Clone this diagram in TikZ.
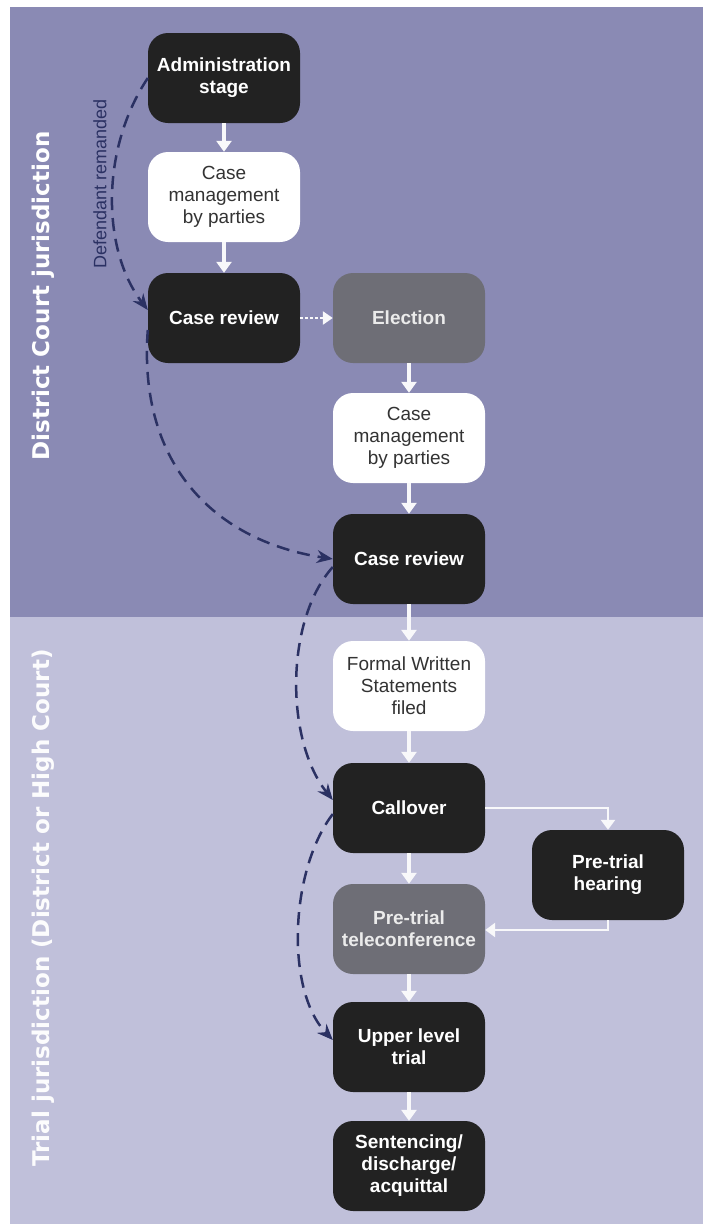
\documentclass[tikz,border=0pt]{standalone}
\usepackage{fontspec}
\setmainfont{Liberation Sans}
\newfontfamily\sidefont{DejaVu Sans}
\usetikzlibrary{arrows.meta}
\definecolor{bgtop}{HTML}{8A8AB4}
\definecolor{bgbot}{HTML}{C0C0DA}
\definecolor{darkbox}{HTML}{222222}
\definecolor{graybox}{HTML}{6E6E76}
\definecolor{navy}{HTML}{2B3163}
\definecolor{softtext}{HTML}{333333}
\begin{document}
\begin{tikzpicture}[x=1pt,y=-1pt,
 box/.style={rounded corners=20pt, minimum width=152pt, minimum height=90pt, inner sep=0pt, align=center, font=\fontsize{19}{22}\selectfont\bfseries},
 darkb/.style={box, fill=darkbox, text=white},
 grayb/.style={box, fill=graybox, text=white!92!black},
 whiteb/.style={box, fill=white, text=softtext, font=\fontsize{19}{22}\selectfont},
 warrow/.style={draw=white!94!bgtop, line width=3.5pt, -{Triangle[width=15pt,length=11pt]}},
 wline/.style={draw=white!94!bgtop, line width=2.5pt, -{Triangle[width=14pt,length=10pt]}},
 wdot/.style={draw=white!94!bgtop, line width=2.5pt, dash pattern=on 3pt off 2pt, -{Triangle[width=13pt,length=10pt]}},
 remand/.style={draw=navy, line width=2.5pt, dash pattern=on 13pt off 8pt, -{Stealth[length=16pt,width=13pt]}},
 sidelabel/.style={rotate=90, text=white, font=\sidefont\bfseries\fontsize{23}{26}\selectfont}
]
\useasboundingbox (0,0) rectangle (703,1224);
\fill[white] (0,0) rectangle (703,1224);
\fill[bgtop] (10,7) rectangle (703,617);
\fill[bgbot] (10,617) rectangle (703,1224);

\node[sidelabel] (lbltop) at (43,296) {District Court jurisdiction};
\node[sidelabel, text=white!95!bgbot] (lblbot) at (43,908) {Trial jurisdiction (District or High Court)};

\node[darkb] (admin) at (224,78) {Administration\\stage};
\node[whiteb] (cm1) at (224,197) {Case\\management\\by parties};
\node[darkb] (cr1) at (224,318) {Case review};
\node[grayb] (elec) at (409,318) {Election};
\node[whiteb] (cm2) at (409,438) {Case\\management\\by parties};
\node[darkb] (cr2) at (409,559) {Case review};
\node[whiteb] (fws) at (409,686) {Formal Written\\Statements\\filed};
\node[darkb] (call) at (409,808) {Callover};
\node[darkb] (pth) at (608,875) {Pre-trial\\hearing};
\node[grayb] (ptt) at (409,929) {Pre-trial\\teleconference};
\node[darkb] (ult) at (409,1047) {Upper level\\trial};
\node[darkb] (sent) at (409,1166) {Sentencing/\\discharge/\\acquittal};

\draw[warrow] (admin.south) -- (cm1.north);
\draw[warrow] (cm1.south) -- (cr1.north);
\draw[wdot] (cr1.east) -- (elec.west);
\draw[warrow] (elec.south) -- (cm2.north);
\draw[warrow] (cm2.south) -- (cr2.north);
\draw[warrow] (cr2.south) -- (fws.north);
\draw[warrow] (fws.south) -- (call.north);
\draw[warrow] (call.south) -- (ptt.north);
\draw[warrow] (ptt.south) -- (ult.north);
\draw[warrow] (ult.south) -- (sent.north);
\draw[wline] (call.east) -| (pth.north);
\draw[wline] (pth.south) |- ([yshift=-1pt]ptt.east);

\node[rotate=90, text=navy, font=\fontsize{18}{20}\selectfont] (rem) at (100,184) {Defendant remanded};
\draw[remand] (admin.west) .. controls (100,150) and (102,250) .. ([yshift=8pt]cr1.west);
\draw[remand] ([yshift=-12pt]cr1.west) .. controls (138,460) and (210,540) .. (cr2.west);
\draw[remand] ([yshift=-8pt]cr2.west) .. controls (285,620) and (285,740) .. ([yshift=8pt]call.west);
\draw[remand] ([yshift=-6pt]call.west) .. controls (290,870) and (285,990) .. ([yshift=7pt]ult.west);
\end{tikzpicture}
\end{document}
